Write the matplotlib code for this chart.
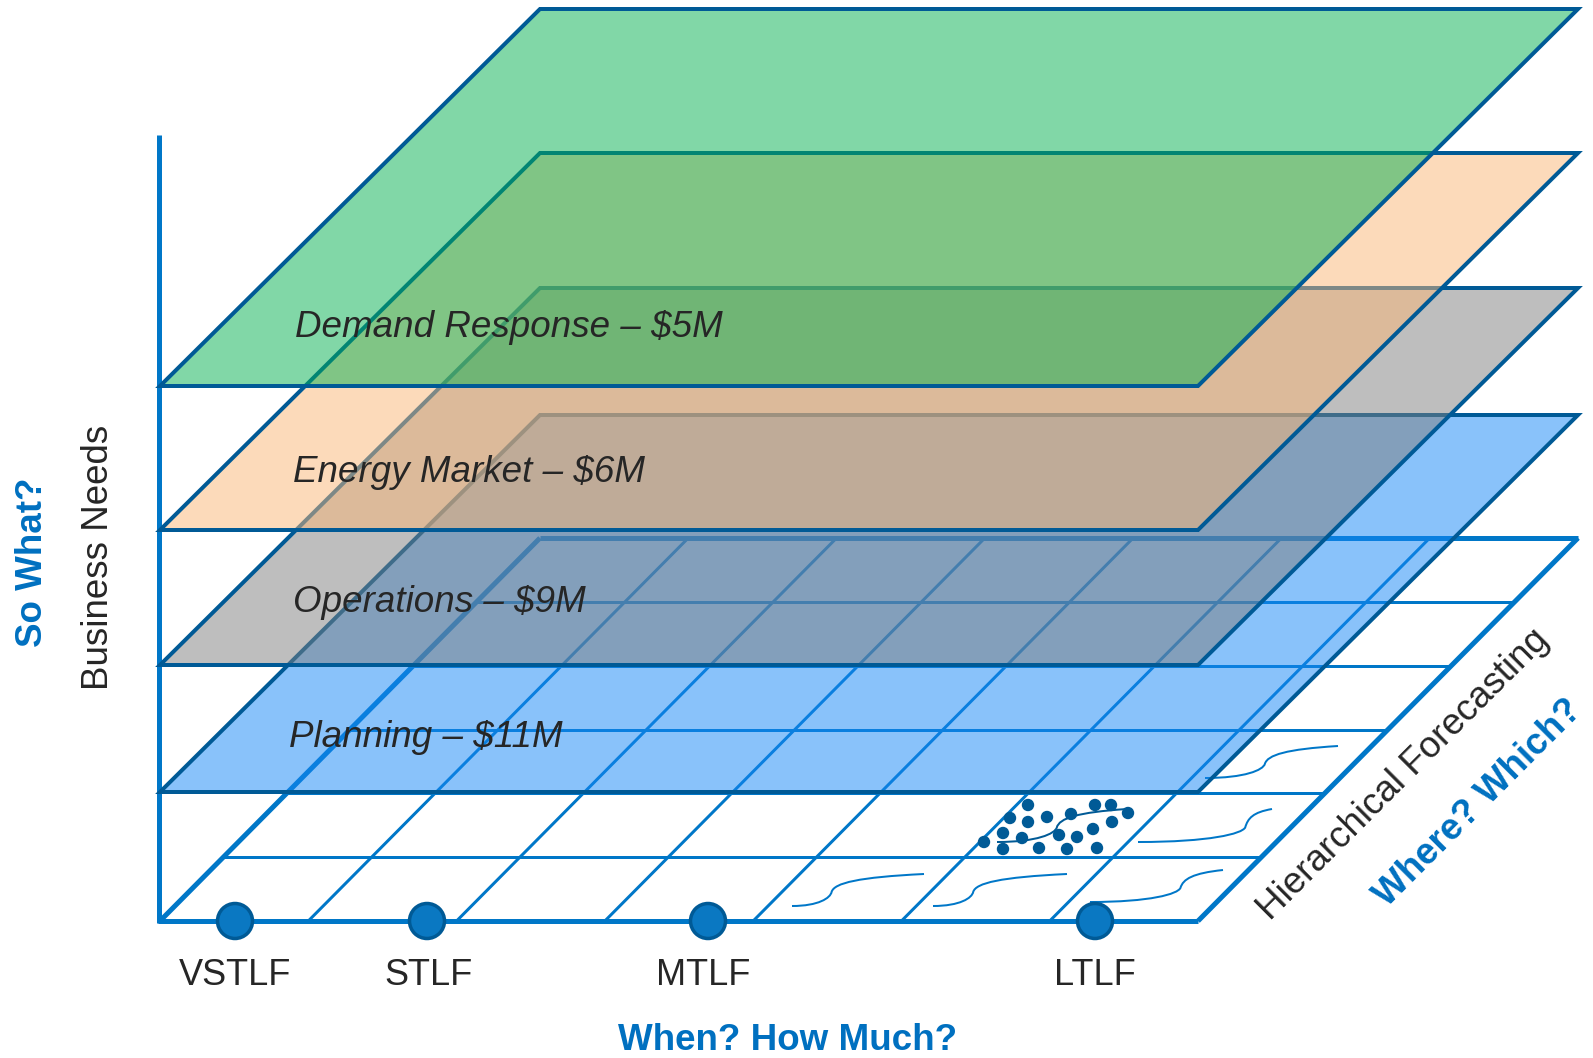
import numpy as np
import matplotlib
matplotlib.use('Agg')
from matplotlib import pyplot as plt
from matplotlib.patches import Polygon, Circle, PathPatch
from matplotlib.path import Path
from matplotlib.colors import to_rgba

plt.rcParams['font.family'] = ['Liberation Sans', 'DejaVu Sans']

# warstwy biznesowe (od dolu do gory)
layer_names = ['Planning', 'Operations', 'Energy Market', 'Demand Response']
layer_costs = ['$11M', '$9M', '$6M', '$5M']
layer_colors = ['#1587f7', '#7e7e7e', '#fbb777', '#05b151']
layer_front_y = [792, 665, 530, 386]
label_xy = [(289, 747), (293, 612), (293, 482), (295, 337)]

# horyzonty prognozy na osi czasu
horizons = ['VSTLF', 'STLF', 'MTLF', 'LTLF']
horizon_x = [235, 427, 708, 1095]
horizon_label_x = [235, 429, 703, 1095]

# chmura punktow w jednej komorce
cloud_x = [1028, 1095, 1111, 1010, 1028, 1047, 1071, 1128, 1112, 1003,
           1022, 984, 1003, 1039, 1059, 1077, 1093, 1067, 1097]
cloud_y = [805, 805, 805, 818, 822, 817, 814, 813, 822, 833,
           838, 842, 849, 848, 835, 837, 829, 849, 848]

# krzywe S w komorkach: poczatek, koniec, miejsce stromego skoku
curve_x0 = [792, 933, 1090, 1138, 1205, 997]
curve_y0 = [906, 906, 902, 842, 778, 842]
curve_x1 = [924, 1067, 1223, 1272, 1338, 1127]
curve_y1 = [874, 874, 870, 809, 746, 809]
curve_p = [0.3, 0.3, 0.68, 0.8, 0.45, 0.46]

# geometria rysunku (piksele)
X0, X1 = 160, 1198          # przednia krawedz
DX = 380                    # przesuniecie w glab
LAYER_DY = 377
FLOOR_Y, FLOOR_DY = 921, 383
N_COLS, N_ROWS = 7, 6

BLUE = '#0077c8'
DARK = '#005a96'
TXT = '#262626'
PX = 0.72  # piksel -> punkt


def s_krzywa(x0, y0, x1, y1, p):
    w, h = x1 - x0, y1 - y0
    uv = [(0, 0), (0.67*p, 0), (0.97*p, 0.25), (p, 0.44),
          (p+0.02, 0.72), (p+0.29*(1-p), 0.9), (1, 1)]
    verts = [(x0+t*w, y0+u*h) for t, u in uv]
    return Path(verts, [Path.MOVETO] + [Path.CURVE4]*6)


fig = plt.figure(figsize=(15.93, 10.58), dpi=100)
ax = fig.add_axes([0, 0, 1, 1])
ax.set_xlim(0, 1593)
ax.set_ylim(1058, 0)
ax.axis('off')

# podloga z siatka
for i in range(N_COLS+1):
    xf = X0 + i*(X1-X0)/N_COLS
    lw = 5 if i in (0, N_COLS) else 3
    ax.plot([xf, xf+DX], [FLOOR_Y, FLOOR_Y-FLOOR_DY], color=BLUE,
            lw=lw*PX, zorder=1, solid_capstyle='butt')
for j in range(N_ROWS+1):
    y = FLOOR_Y - j*FLOOR_DY/N_ROWS
    s = j*DX/N_ROWS
    lw = 5 if j in (0, N_ROWS) else 3
    xa = X0 - 2 if j == 0 else X0 + s
    ax.plot([xa, X1+s], [y, y], color=BLUE, lw=lw*PX, zorder=1,
            solid_capstyle='butt')

# os pionowa
ax.plot([158.5, 158.5], [135, FLOOR_Y+2], color=BLUE, lw=5*PX, zorder=1,
        solid_capstyle='butt')

# krzywe i chmura punktow
for k in range(len(curve_x0)):
    kol = DARK if k == len(curve_x0)-1 else BLUE
    ax.add_patch(PathPatch(s_krzywa(curve_x0[k], curve_y0[k], curve_x1[k],
                                    curve_y1[k], curve_p[k]),
                           fc='none', ec=kol, lw=2*PX, zorder=1.5))
for cx, cy in zip(cloud_x, cloud_y):
    ax.add_patch(Circle((cx, cy), 6.2, fc=DARK, ec='none', zorder=1.6))

# warstwy polprzezroczyste
for k in range(len(layer_names)):
    fy = layer_front_y[k]
    by = fy - LAYER_DY
    ax.add_patch(Polygon([(X0, fy), (X1, fy), (X1+DX, by), (X0+DX, by)],
                         closed=True, fc=to_rgba(layer_colors[k], 0.5),
                         ec=DARK, lw=4*PX, zorder=2+k, joinstyle='miter'))
    ax.text(label_xy[k][0], label_xy[k][1],
            layer_names[k] + ' \u2013 ' + layer_costs[k],
            fontsize=26.5, style='italic', color=TXT, ha='left',
            va='baseline', zorder=10)

# horyzonty
for name, hx, lx in zip(horizons, horizon_x, horizon_label_x):
    ax.add_patch(Circle((hx, FLOOR_Y), 17.5, fc='#0a78c2', ec=DARK,
                        lw=3.5*PX, zorder=7))
    ax.text(lx, 985, name, fontsize=26, color=TXT, ha='center',
            va='baseline', zorder=10)

# opisy osi
ax.text(788, 1050, 'When? How Much?', fontsize=26.5, fontweight='bold',
        color='#0070c0', ha='center', va='baseline')
ax.text(42, 562, 'So What?', fontsize=26.5, fontweight='bold',
        color='#0070c0', ha='center', va='baseline', rotation=90,
        rotation_mode='anchor')
ax.text(108, 557, 'Business Needs', fontsize=26.5, color=TXT,
        ha='center', va='baseline', rotation=90, rotation_mode='anchor')
ax.text(1410, 781, 'Hierarchical Forecasting', fontsize=26.5, color=TXT,
        ha='center', va='baseline', rotation=45, rotation_mode='anchor')
ax.text(1485, 810, 'Where? Which?', fontsize=26.5, fontweight='bold',
        color='#0070c0', ha='center', va='baseline', rotation=45,
        rotation_mode='anchor')

fig.savefig('out.png', dpi=100)
